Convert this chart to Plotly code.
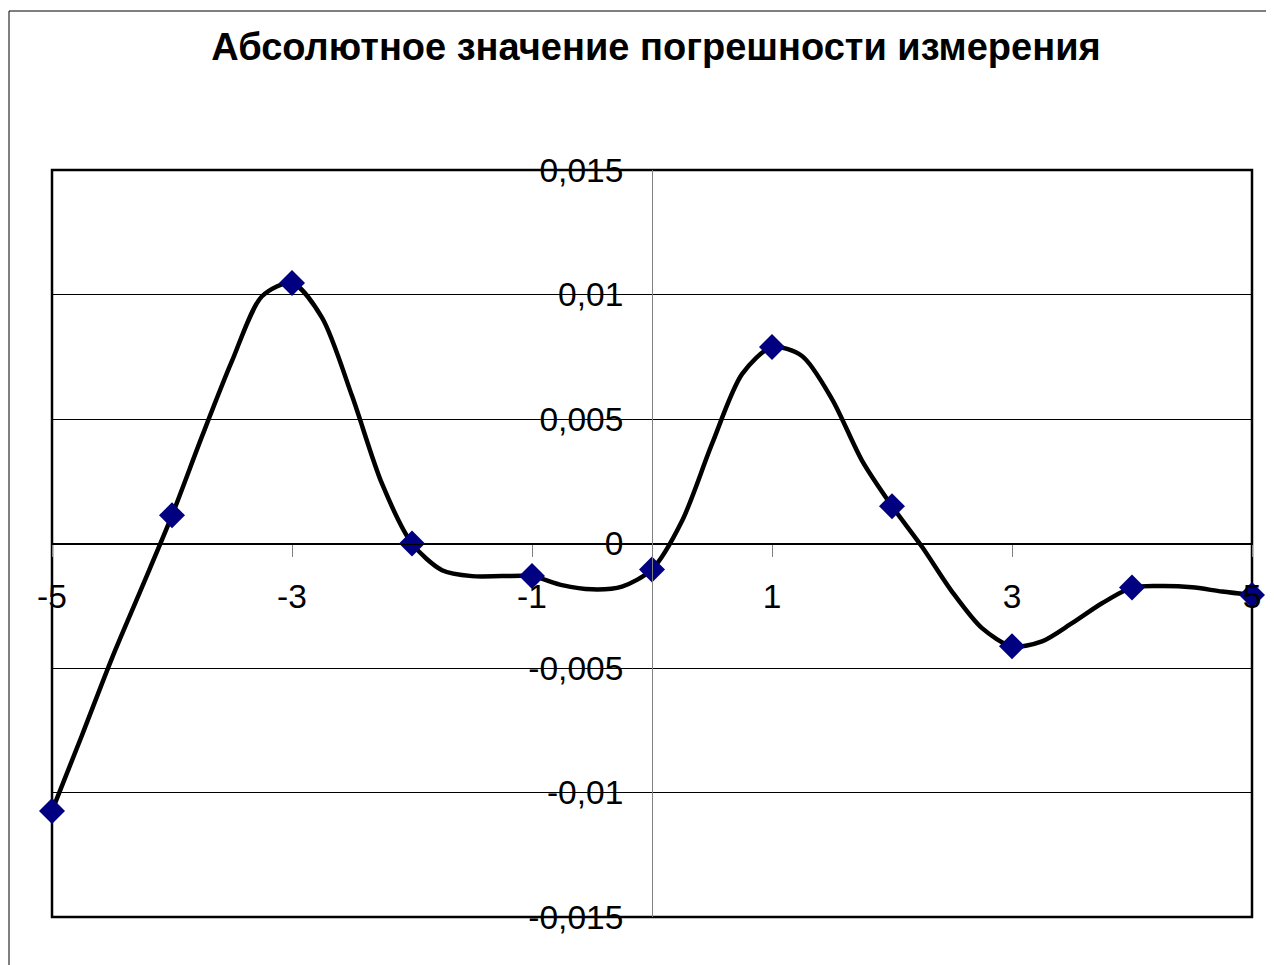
import plotly.graph_objects as go

# Smoothed error curve (step 0.25)
x_curve = [-5, -4.75, -4.5, -4.25, -4, -3.75, -3.5, -3.25, -3, -2.75, -2.5, -2.25,
           -2, -1.75, -1.5, -1.25, -1, -0.75, -0.5, -0.25, 0, 0.25, 0.5, 0.75,
           1, 1.25, 1.5, 1.75, 2, 2.25, 2.5, 2.75, 3, 3.25, 3.5, 3.75,
           4, 4.25, 4.5, 4.75, 5]
y_curve = [-0.01074, -0.0077, -0.0046, -0.00175, 0.00113, 0.0043, 0.00733, 0.00993,
           0.01046, 0.00907, 0.00593, 0.0024, 0.0, -0.00107, -0.00131, -0.00131,
           -0.00131, -0.00167, -0.00184, -0.00173, -0.00104, 0.0009, 0.0040, 0.0068,
           0.00789, 0.00753, 0.0058, 0.00333, 0.0015, -0.00013, -0.00193, -0.0034,
           -0.00413, -0.00393, -0.0032, -0.0024, -0.00177, -0.00171, -0.00176,
           -0.00193, -0.00207]

# Measured points (diamonds)
x_points = [-5, -4, -3, -2, -1, 0, 1, 2, 3, 4, 5]
y_points = [-0.01074, 0.00113, 0.01046, 0.0, -0.00131, -0.00104, 0.00789, 0.0015,
            -0.00413, -0.00177, -0.00207]

x_tick_vals = [-5, -3, -1, 1, 3, 5]
x_tick_text = ["-5", "-3", "-1", "1", "3", "5"]
y_tick_vals = [-0.015, -0.01, -0.005, 0, 0.005, 0.01, 0.015]
y_tick_text = ["-0,015", "-0,01", "-0,005", "0", "0,005", "0,01", "0,015"]

title_text = "Абсолютное значение погрешности измерения"

FONT = "Liberation Sans, Arial, sans-serif"

fig = go.Figure()
fig.add_trace(go.Scatter(
    x=x_curve, y=y_curve, mode="lines",
    line=dict(color="#000000", width=4.5, shape="spline", smoothing=0.8),
    cliponaxis=False, showlegend=False, hoverinfo="skip"))
fig.add_trace(go.Scatter(
    x=x_points, y=y_points, mode="markers",
    marker=dict(symbol="diamond", size=20, color="#000080",
                line=dict(width=0)),
    cliponaxis=False, showlegend=False))

fig.update_layout(
    width=1274, height=965,
    margin=dict(l=44, r=30, t=162, b=56),
    paper_bgcolor="white", plot_bgcolor="white",
    font=dict(family=FONT, color="#000000"),
    title=dict(text="<b>" + title_text + "</b>", x=648 / 1274, xanchor="center",
               y=1 - 39 / 965, yanchor="middle", yref="container", xref="container",
               font=dict(family=FONT, size=38, color="#000000")),
    xaxis=dict(range=[-5, 5], anchor="free", position=0.5,
               showgrid=False, zeroline=False,
               showline=True, linecolor="#000000", linewidth=1,
               tickmode="array", tickvals=x_tick_vals, ticktext=x_tick_text,
               ticks="outside", ticklen=12, tickcolor="#808080", tickwidth=1,
               ticklabelstandoff=11,
               tickfont=dict(family=FONT, size=33.5, color="#000000")),
    yaxis=dict(range=[-0.015, 0.015], anchor="free", position=0.5,
               showgrid=True, gridcolor="#000000", gridwidth=1, zeroline=False,
               showline=True, linecolor="#808080", linewidth=1,
               tickmode="array", tickvals=y_tick_vals, ticktext=y_tick_text,
               ticks="outside", ticklen=12, tickcolor="#000000", tickwidth=1,
               ticklabelstandoff=10,
               tickfont=dict(family=FONT, size=33.5, color="#000000")),
    shapes=[
        dict(type="rect", xref="paper", yref="paper", x0=0, x1=1, y0=0, y1=1,
             line=dict(color="#000000", width=2.5), layer="between"),
        dict(type="rect", xref="paper", yref="paper",
             x0=(9 - 52) / 1200, x1=1.1, y0=-0.2, y1=(917 - 11) / 747,
             line=dict(color="#000000", width=1), layer="below"),
    ],
)

fig.write_html("out.html")
